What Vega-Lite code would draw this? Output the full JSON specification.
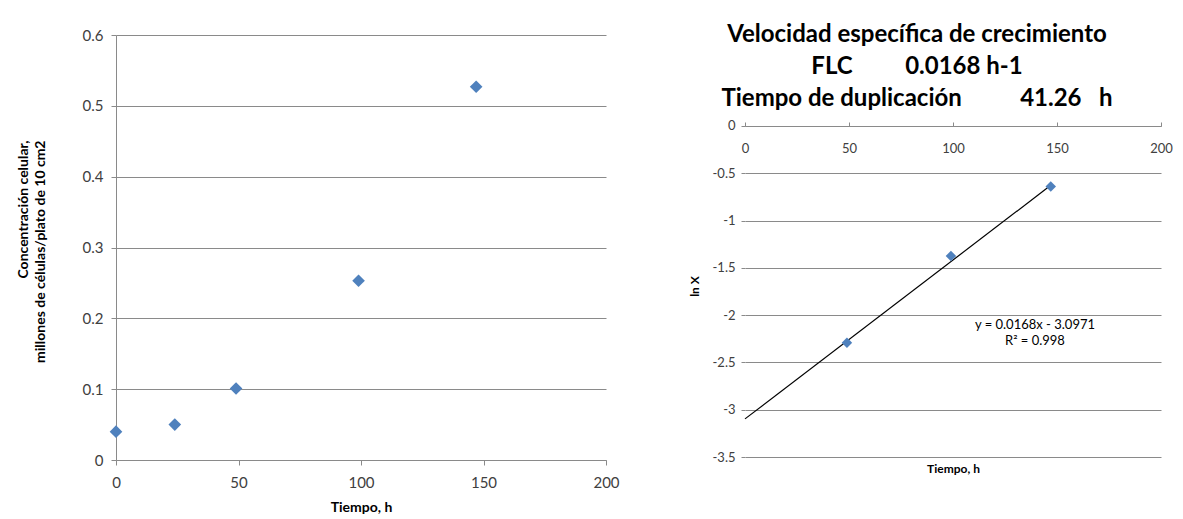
{
  "$schema": "https://vega.github.io/schema/vega-lite/v6.json",
  "background": "white",
  "padding": {"left": 16, "top": 23, "right": 0, "bottom": 0},
  "spacing": 68,
  "datasets": {
    "conc": [
      {"t": 0, "c": 0.040},
      {"t": 24, "c": 0.050},
      {"t": 49, "c": 0.101},
      {"t": 99, "c": 0.253},
      {"t": 147, "c": 0.527}
    ],
    "lnx": [
      {"t": 49, "v": -2.293},
      {"t": 99, "v": -1.374},
      {"t": 147, "v": -0.641}
    ],
    "fit": [
      {"t": 0, "v": -3.0971},
      {"t": 147, "v": -0.6275}
    ],
    "eq": [
      {"t": 139.4, "v": -2.104, "label": "y = 0.0168x - 3.0971"},
      {"t": 139.4, "v": -2.273, "label": "R² = 0.998"}
    ]
  },
  "hconcat": [
    {
      "width": 490,
      "height": 425,
      "data": {"name": "conc"},
      "mark": {"type": "point", "shape": "diamond", "filled": true, "opacity": 1, "color": "#4F81BD", "size": 160},
      "encoding": {
        "x": {
          "field": "t", "type": "quantitative",
          "scale": {"domain": [0, 200], "nice": false, "zero": false},
          "axis": {
            "values": [0, 50, 100, 150, 200], "grid": false, "title": "Tiempo, h",
            "labelFontSize": 15, "titleFontSize": 14, "titleFontWeight": "bold",
            "labelPadding": 10, "tickSize": 5, "titlePadding": 10,
            "labelExpr": "''+datum.value", "labelFlush": false
          }
        },
        "y": {
          "field": "c", "type": "quantitative",
          "scale": {"domain": [0, 0.6], "nice": false},
          "axis": {
            "values": [0, 0.1, 0.2, 0.3, 0.4, 0.5, 0.6],
            "title": ["Concentración celular,", "millones de células/plato de 10 cm2"],
            "labelFontSize": 15, "titleFontSize": 14, "titleFontWeight": "bold",
            "labelExpr": "''+datum.value", "tickSize": 5, "labelPadding": 8, "titlePadding": 35,
            "titleLineHeight": 17, "titleAlign": "right", "titleY": 105
          }
        }
      }
    },
    {
      "width": 416,
      "height": 422,
      "title": {
        "text": [
          "Velocidad específica de crecimiento",
          "FLC\u00a0\u00a0\u00a0\u00a0\u00a0\u00a0\u00a0\u00a0\u00a00.0168 h-1",
          "Tiempo de duplicación\u00a0\u00a0\u00a0\u00a0\u00a0\u00a0\u00a0\u00a0\u00a0\u00a041.26\u00a0\u00a0\u00a0h"
        ],
        "fontSize": 24, "font": "Lato", "fontWeight": "bold", "lineHeight": 32,
        "anchor": "middle", "dx": -36, "offset": -76, "color": "#000"
      },
      "layer": [
        {
          "data": {"name": "fit"},
          "mark": {"type": "line", "color": "#000", "strokeWidth": 1.2},
          "encoding": {
            "x": {
              "field": "t", "type": "quantitative",
              "scale": {"domain": [0, 200], "nice": false, "zero": false},
              "axis": {
                "orient": "bottom", "offset": -331,
                "values": [0, 50, 100, 150, 200], "grid": false, "title": "Tiempo, h",
                "titleY": 337, "titleFontSize": 12, "titleFontWeight": "bold",
                "labelFontSize": 13, "labelExpr": "''+datum.value",
                "tickSize": -4, "labelPadding": 20, "labelFlush": false
              }
            },
            "y": {
              "field": "v", "type": "quantitative",
              "scale": {"domain": [-3.5, 0.9622], "nice": false, "zero": false},
              "axis": {
                "values": [0, -0.5, -1, -1.5, -2, -2.5, -3, -3.5],
                "title": "ln X", "titleFontSize": 12, "titleFontWeight": "bold",
                "titleY": 251,
                "labelFontSize": 13, "labelExpr": "''+datum.value", "domain": false,
                "tickSize": 4, "labelPadding": 6, "titlePadding": 11, "grid": true
              }
            }
          }
        },
        {
          "mark": {"type": "rule", "color": "#8a8a8a", "strokeWidth": 1},
          "encoding": {
            "x": {"datum": 0, "type": "quantitative"},
            "y": {"datum": 0, "type": "quantitative"},
            "y2": {"datum": -3.5}
          }
        },
        {
          "data": {"name": "lnx"},
          "mark": {"type": "point", "shape": "diamond", "filled": true, "opacity": 1, "color": "#4F81BD", "size": 110},
          "encoding": {
            "x": {"field": "t", "type": "quantitative"},
            "y": {"field": "v", "type": "quantitative"}
          }
        },
        {
          "data": {"name": "eq"},
          "mark": {"type": "text", "fontSize": 13, "color": "#000", "font": "Lato"},
          "encoding": {
            "x": {"field": "t", "type": "quantitative"},
            "y": {"field": "v", "type": "quantitative"},
            "text": {"field": "label"}
          }
        }
      ]
    }
  ],
  "config": {
    "view": {"stroke": null},
    "font": "Lato",
    "axis": {
      "labelFont": "Lato", "titleFont": "Lato",
      "labelColor": "#404040", "titleColor": "#000",
      "gridColor": "#8a8a8a", "domainColor": "#8a8a8a", "tickColor": "#8a8a8a",
      "gridOpacity": 1, "domainWidth": 1, "gridWidth": 1
    }
  }
}
